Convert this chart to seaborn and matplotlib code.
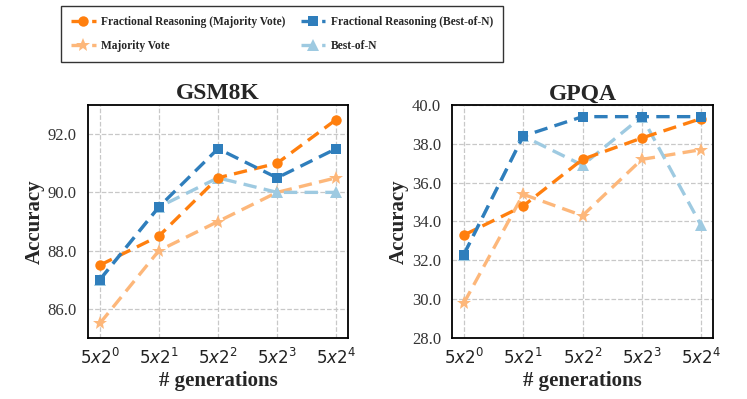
import matplotlib
matplotlib.use("Agg")
import matplotlib.pyplot as plt
import seaborn as sns
import pandas as pd

x_labels = [r"$5x2^0$", r"$5x2^1$", r"$5x2^2$", r"$5x2^3$", r"$5x2^4$"]
series_names = ["Fractional Reasoning (Majority Vote)", "Fractional Reasoning (Best-of-N)",
                "Majority Vote", "Best-of-N"]

gsm_fr_mv = [87.5, 88.5, 90.5, 91.0, 92.5]
gsm_fr_bon = [87.0, 89.5, 91.5, 90.5, 91.5]
gsm_mv = [85.5, 88.0, 89.0, 90.0, 90.5]
gsm_bon = [87.0, 89.5, 90.5, 90.0, 90.0]

gpqa_fr_mv = [33.3, 34.8, 37.2, 38.3, 39.3]
gpqa_fr_bon = [32.3, 38.4, 39.4, 39.4, 39.4]
gpqa_mv = [29.8, 35.4, 34.3, 37.2, 37.7]
gpqa_bon = [32.3, 38.4, 36.9, 39.4, 33.8]

gsm_ticks = [86.0, 88.0, 90.0, 92.0]
gpqa_ticks = [28.0, 30.0, 32.0, 34.0, 36.0, 38.0, 40.0]

sns.set_theme(style="whitegrid")
plt.rcParams["font.family"] = ["Liberation Serif", "DejaVu Serif"]
plt.rcParams["mathtext.fontset"] = "dejavusans"

colors = {"Fractional Reasoning (Majority Vote)": "#ff7f0e",
          "Fractional Reasoning (Best-of-N)": "#2f7ebc",
          "Majority Vote": "#fdb77a",
          "Best-of-N": "#9ecae1"}
markers = {"Fractional Reasoning (Majority Vote)": "o",
           "Fractional Reasoning (Best-of-N)": "s",
           "Majority Vote": "*",
           "Best-of-N": "^"}
order = ["Fractional Reasoning (Majority Vote)", "Majority Vote",
         "Fractional Reasoning (Best-of-N)", "Best-of-N"]


def make_df(vals):
    rows = []
    for name, v in zip(series_names, vals):
        for i, y in enumerate(v):
            rows.append({"x": i, "acc": y, "series": name})
    return pd.DataFrame(rows)


fig = plt.figure(figsize=(7.47, 3.99), dpi=100)
ax1 = fig.add_axes([88 / 747, 1 - 338 / 399, 260 / 747, 233 / 399])
ax2 = fig.add_axes([452 / 747, 1 - 338 / 399, 261 / 747, 233 / 399])

panels = [
    (ax1, "GSM8K", [gsm_fr_mv, gsm_fr_bon, gsm_mv, gsm_bon], (85.0, 93.0), gsm_ticks),
    (ax2, "GPQA", [gpqa_fr_mv, gpqa_fr_bon, gpqa_mv, gpqa_bon], (28.0, 40.0), gpqa_ticks),
]

draw_order = ["Majority Vote", "Best-of-N", "Fractional Reasoning (Majority Vote)",
              "Fractional Reasoning (Best-of-N)"]

for ax, title, vals, ylim, yt in panels:
    df = make_df(vals)
    for name in draw_order:
        sub = df[df["series"] == name]
        ms = 10 if markers[name] == "*" else (9 if markers[name] == "^" else 7.5)
        sns.lineplot(data=sub, x="x", y="acc", ax=ax, color=colors[name],
                     marker=markers[name], markersize=ms, linestyle=(0, (4, 2.2)),
                     linewidth=2.4, markeredgewidth=0, label=name, legend=False)
    ax.set_xlim(-0.2, 4.2)
    ax.set_ylim(*ylim)
    ax.set_xticks(range(5))
    ax.set_xticklabels(x_labels, fontsize=12)
    ax.set_yticks(yt)
    ax.set_yticklabels([f"{t:.1f}" for t in yt], fontsize=12)
    ax.set_title(title, fontsize=17, fontweight="bold", pad=4)
    ax.set_xlabel("# generations", fontsize=15, fontweight="bold", labelpad=2)
    ax.set_ylabel("Accuracy", fontsize=15, fontweight="bold", labelpad=2)
    ax.grid(True, linestyle="--", color="#c8c8c8", linewidth=0.9)
    ax.tick_params(axis="x", pad=7, colors="#222222", length=0)
    ax.tick_params(axis="y", pad=8, colors="#333333", length=0)
    for s in ax.spines.values():
        s.set_color("black")
        s.set_linewidth(1.3)

handles, labels = ax1.get_legend_handles_labels()
hmap = dict(zip(labels, handles))
leg = fig.legend([hmap[n] for n in order], order, loc="upper left",
                 bbox_to_anchor=(61 / 747, 1 - 6 / 399), ncol=2, frameon=True,
                 fancybox=False, edgecolor="black", prop={"weight": "bold", "size": 8.3},
                 handlelength=2.1, handletextpad=0.5, columnspacing=1.3, borderpad=0.9,
                 labelspacing=1.0, borderaxespad=0)
leg.get_frame().set_linewidth(1.0)

fig.savefig("out.png", dpi=100)
